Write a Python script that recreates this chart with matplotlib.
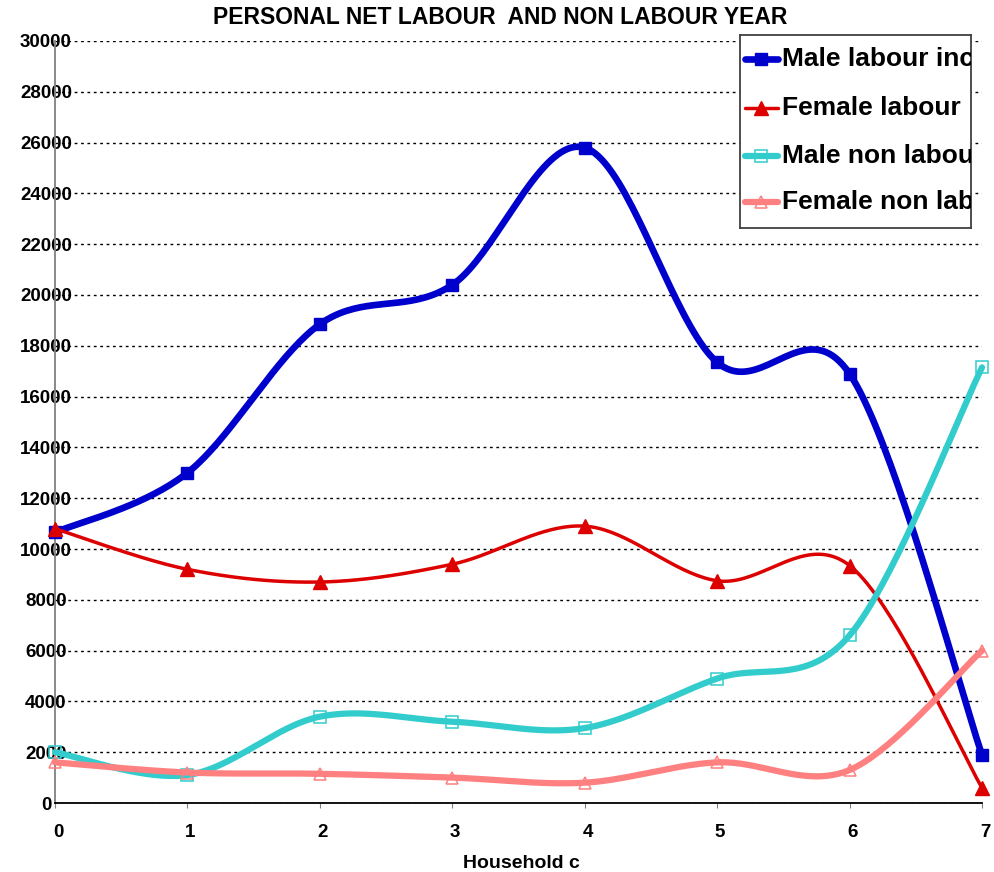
import numpy as np
import matplotlib
matplotlib.use('Agg')
import matplotlib.pyplot as plt
from matplotlib.transforms import ScaledTranslation

plt.rcParams['font.family'] = ['Liberation Sans', 'DejaVu Sans']

# ---- data ----
households = [0, 1, 2, 3, 4, 5, 6, 7]
male_labour = [10650, 13000, 18850, 20400, 25800, 17350, 16900, 1900]
female_labour = [10800, 9200, 8700, 9400, 10900, 8750, 9350, 600]
male_non_labour = [2000, 1100, 3400, 3200, 2950, 4900, 6600, 17150]
female_non_labour = [1600, 1200, 1150, 1000, 800, 1600, 1300, 6000]
series_names = ["Male labour income", "Female labour",
                "Male non labour income", "Female non labour income"]
y_ticks = list(range(0, 30001, 2000))
title_text = "PERSONAL NET LABOUR  AND NON LABOUR YEAR"
x_label = "Household c"


def smooth(x, y, n=40):
    """Excel-like smoothed line (Bezier through points, Catmull-Rom controls)."""
    P = np.column_stack([np.asarray(x, float), np.asarray(y, float)])
    ext = np.vstack([P[0], P, P[-1]])
    t = np.linspace(0, 1, n)[:, None]
    out = []
    for i in range(len(P) - 1):
        p0, p3 = ext[i + 1], ext[i + 2]
        c1 = p0 + (ext[i + 2] - ext[i]) / 6.0
        c2 = p3 - (ext[i + 3] - ext[i + 1]) / 6.0
        seg = ((1 - t) ** 3) * p0 + 3 * ((1 - t) ** 2) * t * c1 \
            + 3 * (1 - t) * (t ** 2) * c2 + (t ** 3) * p3
        out.append(seg if i == 0 else seg[1:])
    return np.vstack(out)


W, H = 995, 872
fig = plt.figure(figsize=(W / 100, H / 100), dpi=100)
ax = fig.add_axes([55 / W, 1 - 803 / H, 927 / W, 762 / H])

styles = [
    dict(color='#0000CC', lw=4.8, marker='s', ms=8.8, mfc='#0000CC', mec='#0000CC', mew=1),
    dict(color='#DD0000', lw=2.5, marker='^', ms=9.5, mfc='#DD0000', mec='#DD0000', mew=1),
    dict(color='#33CCCC', lw=4.5, marker='s', ms=8.4, mfc='none', mec='#33CCCC', mew=1.1),
    dict(color='#FF8080', lw=4.5, marker='^', ms=9.2, mfc='none', mec='#FF8080', mew=1.1),
]
all_series = [male_labour, female_labour, male_non_labour, female_non_labour]

for k, (vals, st) in enumerate(zip(all_series, styles)):
    curve = smooth(households, vals)
    ax.plot(curve[:, 0], curve[:, 1], color=st['color'], lw=st['lw'],
            solid_capstyle='round', solid_joinstyle='round', zorder=3 + k * 2, clip_on=False)
    ax.plot(households, vals, ls='none', marker=st['marker'], ms=st['ms'],
            mfc=st['mfc'], mec=st['mec'], mew=st['mew'], zorder=4 + k * 2, clip_on=False)

ax.set_xlim(0, 7)
ax.set_ylim(0, 30000)
ax.set_yticks(y_ticks)
ax.set_xticks(households)
ax.yaxis.grid(True, linestyle=(0, (2, 2.6)), color='black', lw=1.0)
ax.set_axisbelow(True)

for s in ['top', 'right']:
    ax.spines[s].set_visible(False)
ax.spines['left'].set_color('#808080')
ax.spines['left'].set_linewidth(1.3)
ax.spines['bottom'].set_color('black')
ax.spines['bottom'].set_linewidth(1.3)

ax.tick_params(axis='y', length=0, pad=6.5, labelsize=13.5)
ax.tick_params(axis='x', length=3.6, color='#808080', direction='out', pad=11.5, labelsize=13.5)
for lbl in ax.get_yticklabels():
    lbl.set_fontweight('bold')
    lbl.set_ha('center')
offset = ScaledTranslation(3 / 100, 0, fig.dpi_scale_trans)
for lbl in ax.get_xticklabels():
    lbl.set_fontweight('bold')
    lbl.set_transform(lbl.get_transform() + offset)

fig.text(500 / W, 1 - 18 / H, title_text, ha='center', va='center',
         fontsize=16.5, fontweight='bold')
fig.text(521 / W, 1 - 868 / H, x_label, ha='center', va='baseline',
         fontsize=14, fontweight='bold')

# ---- legend (clipped at the box edge, as in the reference) ----
lx0, ly0, lw_, lh_ = 740, 35, 231, 193
lax = fig.add_axes([lx0 / W, 1 - (ly0 + lh_) / H, lw_ / W, lh_ / H], zorder=20)
lax.set_xlim(0, lw_)
lax.set_ylim(lh_, 0)
lax.set_xticks([])
lax.set_yticks([])
lax.patch.set_facecolor('white')
for s in lax.spines.values():
    s.set_color('#404040')
    s.set_linewidth(1.3)

entry_y = [24, 73, 121, 167]
for name, st, yy in zip(series_names, styles, entry_y):
    lax.plot([5, 38], [yy, yy], color=st['color'], lw=st['lw'], solid_capstyle='round')
    lax.plot([21.5], [yy], ls='none', marker=st['marker'], ms=st['ms'],
             mfc=st['mfc'], mec=st['mec'], mew=st['mew'])
    lax.text(42, yy, name, ha='left', va='center', fontsize=19,
             fontweight='bold', clip_on=True)

fig.savefig('out.png', dpi=100)
